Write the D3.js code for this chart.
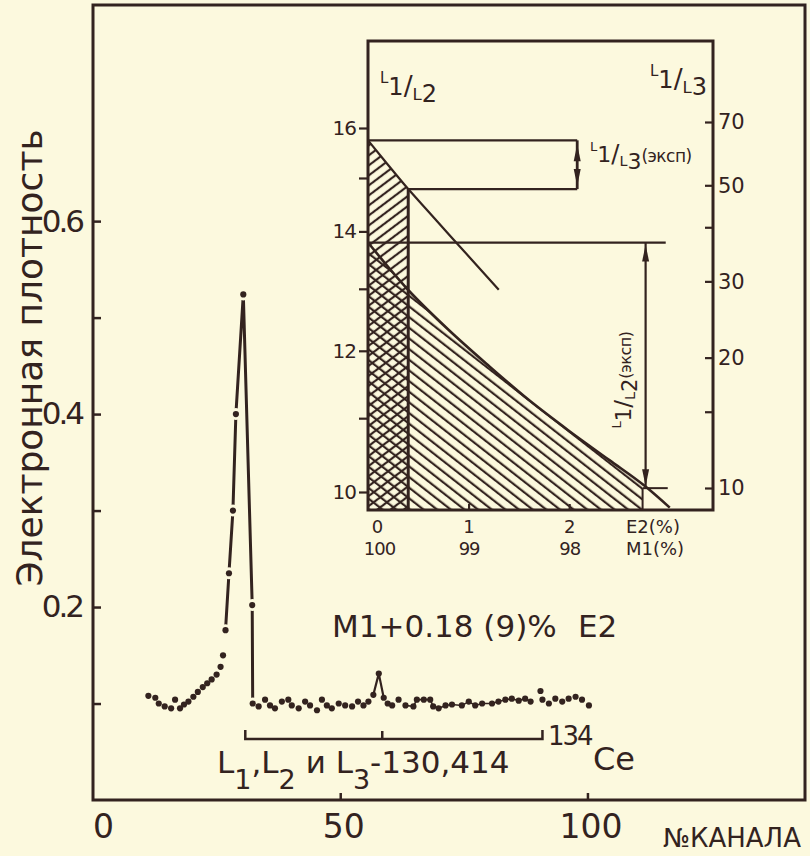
<!DOCTYPE html>
<html>
<head>
<meta charset="utf-8">
<script src="https://cdnjs.cloudflare.com/ajax/libs/d3/7.8.5/d3.min.js"></script>
<style>
body{margin:0;background:#fcf9de;}
svg{display:block;color:#33231f;}
text{font-family:"DejaVu Sans",sans-serif;fill:#33231f;}
</style>
</head>
<body>
<svg id="svg" width="810" height="856"></svg>
<script>
// spectrum: channel number vs electron density
var channel=[11.2,12.6,13.3,14.5,15.8,16.6,17.6,18.4,19.3,20.3,21.2,22.2,23.1,24.0,25.0,25.8,26.3,
    26.8,27.5,28.3,28.9,30.4,32.2,
    32.3,33.5,34.8,35.8,36.8,38.2,39.5,40.2,41.6,42.9,43.9,45.3,46.3,47.3,48.3,49.7,51.0,52.4,53.6,54.7,55.7,
    56.7,57.8,58.8,
    59.6,60.5,61.8,63.2,64.8,65.5,66.9,68.2,68.8,69.9,71.3,72.6,74.6,76.0,77.3,78.7,80.7,82.0,83.4,84.7,86.1,87.4,88.5,
    90.5,90.9,92.2,93.5,94.9,96.2,97.6,98.9,100.3]
var density=[0.108,0.106,0.100,0.097,0.095,0.104,0.095,0.099,0.102,0.107,0.112,0.117,0.121,0.125,0.130,0.138,0.150,
    0.176,0.235,0.300,0.400,0.524,0.202,
    0.100,0.097,0.104,0.098,0.095,0.102,0.104,0.098,0.095,0.102,0.098,0.093,0.104,0.098,0.095,0.100,0.098,0.097,0.102,0.098,0.102,
    0.109,0.131,0.106,
    0.100,0.098,0.104,0.098,0.097,0.104,0.104,0.104,0.097,0.095,0.098,0.099,0.098,0.102,0.098,0.100,0.100,0.102,0.104,0.105,0.103,0.105,0.102,
    0.113,0.104,0.100,0.105,0.102,0.105,0.107,0.104,0.098]
var peakRange=[26.5,32.4]
var smallPeakRange=[56.5,59]
var smearRange=[62,89]
var lineChannels=[30.8,58.5,90.9]   // L1, L2, L3 - 130,414
var xTicks=[0,50,100]
var yTicks=[0.1,0.2,0.3,0.4,0.5,0.6]
var yLabels=[0.2,0.4,0.6]

// inset: E2 admixture vs L-subshell ratios
var e2=[0,0.4,0.8,1.2,1.6,2.0,2.4,2.75,3.0]
var l12Theory=[13.8,12.98,12.33,11.77,11.26,10.82,10.42,10.08,9.8]
var e2L13=[0,0.2,0.4,0.6,0.8,1.0,1.3]
var l13Theory=[63.5,55.7,49,43.5,38.6,34.3,28.7]
var l12Exp=[10.05,13.8]
var l13Exp=[49,63.5]
var e2Allowed=0.4
var e2Limit=2.73
var l12Ticks=[10,11,12,13,14,15,16]
var l12Labels=[10,12,14,16]
var l13Ticks=[10,15,20,30,40,50,70]
var l13Labels=[10,20,30,50,70]
var e2Ticks=[0,1,2]
var m1Labels=[100,99,98]

var ink="#33231f", paper="#fcf9de"
var svg=d3.select("#svg")

var x=d3.scaleLinear().domain([0,144]).range([93,805])
var y=d3.scaleLinear().domain([0,0.824]).range([800,5])

var defs=svg.append("defs")
function hatch(id,angle,step){
    defs.append("pattern")
        .attr("id",id)
        .attr("patternUnits","userSpaceOnUse")
        .attr("width",step).attr("height",10)
        .attr("patternTransform","rotate("+angle+")")
      .append("line")
        .attr("x1",2).attr("y1",-1).attr("x2",2).attr("y2",11)
        .attr("stroke",ink).attr("stroke-width",2.2)
}
hatch("hatchBack",-52,8.4)
hatch("hatchFwd",53,8)

// main frame
svg.append("rect")
    .attr("x",x(0)).attr("y",y(0.824))
    .attr("width",x(144)-x(0)).attr("height",y(0)-y(0.824))
    .attr("fill","none").attr("stroke",ink).attr("stroke-width",3)

var gy=svg.append("g").attr("transform","translate("+x(0)+",0)")
    .call(d3.axisRight(y).tickValues(yTicks).tickSize(8).tickFormat(""))
gy.select(".domain").remove()
gy.selectAll("line").attr("stroke-width",2.5)

var gyl=svg.append("g").attr("transform","translate("+x(0)+",0)")
    .call(d3.axisLeft(y).tickValues(yLabels).tickSize(0).tickPadding(11).tickFormat(d3.format(".1f")))
gyl.select(".domain").remove()
gyl.attr("font-size",31).selectAll("text").attr("letter-spacing",-3)

var gx=svg.append("g").attr("transform","translate(0,"+y(0)+")")
    .call(d3.axisTop(x).tickValues([50,100]).tickSize(7).tickFormat(""))
gx.select(".domain").remove()
gx.selectAll("line").attr("stroke-width",2.5)

var gxl=svg.append("g").attr("transform","translate(0,"+y(0)+")")
    .call(d3.axisBottom(x).tickValues(xTicks).tickSize(0).tickPadding(15))
gxl.select(".domain").remove()
gxl.attr("font-size",33).selectAll("text").attr("dx",d=>d===0?10:3)

svg.append("text")
    .attr("transform","translate(42,358) rotate(-90)")
    .attr("text-anchor","middle")
    .attr("font-size",36)
    .text("Электронная плотность")

svg.append("text").attr("x",663).attr("y",847).attr("font-size",26).text("№КАНАЛА")

// spectrum
var pts=channel.map((c,i)=>[c,density[i]])
var inRange=(r)=>pts.filter(d=>d[0]>=r[0]&&d[0]<=r[1])
var line=d3.line().x(d=>x(d[0])).y(d=>y(d[1]))

svg.append("path").datum(inRange(smearRange))
    .attr("d",line).attr("fill","none").attr("stroke",ink).attr("stroke-width",1.6)
svg.append("path").datum(inRange(smallPeakRange))
    .attr("d",line).attr("fill","none").attr("stroke",ink).attr("stroke-width",2.2)
svg.append("path").datum(inRange(peakRange))
    .attr("d",line).attr("fill","none").attr("stroke",ink).attr("stroke-width",3)

// gaps round the dots sitting on the peak line
svg.selectAll("circle.halo")
    .data(inRange(peakRange))
    .enter().append("circle")
        .attr("class","halo")
        .attr("cx",d=>x(d[0]))
        .attr("cy",d=>y(d[1]))
        .attr("r",6)
        .attr("fill",paper)

svg.selectAll("circle.pt")
    .data(pts)
    .enter().append("circle")
        .attr("class","pt")
        .attr("cx",d=>x(d[0]))
        .attr("cy",d=>y(d[1]))
        .attr("r",3.1)
        .attr("fill",ink)

// bracket of L1, L2, L3 lines
var by=739
svg.append("path")
    .attr("d","M"+x(lineChannels[0])+","+(by-9)+"V"+by+"H"+x(lineChannels[2])+"V"+(by-9)
        +"M"+x(lineChannels[1])+","+by+"V"+(by-8))
    .attr("fill","none").attr("stroke",ink).attr("stroke-width",2.5)

var lt=svg.append("text").attr("x",217).attr("y",773).attr("font-size",31)
lt.append("tspan").text("L")
lt.append("tspan").attr("font-size",27).attr("dy",16).text("1")
lt.append("tspan").attr("dy",-16).text(",L")
lt.append("tspan").attr("font-size",27).attr("dy",16).text("2")
lt.append("tspan").attr("dy",-16).text(" и L")
lt.append("tspan").attr("font-size",27).attr("dy",16).text("3")
lt.append("tspan").attr("dy",-16).text("-130,414")

svg.append("text").attr("x",548).attr("y",745).attr("font-size",26).attr("letter-spacing",-2).text("134")
svg.append("text").attr("x",593).attr("y",770).attr("font-size",32).text("Ce")

svg.append("text").attr("x",332).attr("y",637).attr("font-size",31).text("M1+0.18 (9)%")
svg.append("text").attr("x",578).attr("y",637).attr("font-size",31).text("E2")

// inset
var xi=d3.scaleLinear().domain([0,3.43]).range([368,713])
var yl=d3.scaleLog().domain([10,16]).range([492,128])
var yr=d3.scaleLog().domain([10,70]).range([488,122])
var iTop=41, iBottom=510

var inset=svg.append("g")
inset.append("rect")
    .attr("x",xi(0)).attr("y",iTop)
    .attr("width",xi(3.43)-xi(0)).attr("height",iBottom-iTop)
    .attr("fill",paper)

defs.append("clipPath").attr("id","clipInset").append("rect")
    .attr("x",xi(0)).attr("y",iTop).attr("width",xi(3.43)-xi(0)).attr("height",iBottom-iTop)
defs.append("clipPath").attr("id","clipLimit").append("rect")
    .attr("x",xi(0)).attr("y",iTop).attr("width",xi(e2Limit)-xi(0)).attr("height",iBottom-iTop)

var l12=e2.map((e,i)=>[e,l12Theory[i]])
var l13=e2L13.map((e,i)=>[e,l13Theory[i]])

inset.append("path").datum(l12)
    .attr("clip-path","url(#clipLimit)")
    .attr("d",d3.area().x(d=>xi(d[0])).y0(iBottom).y1(d=>yl(d[1])).curve(d3.curveMonotoneX))
    .attr("fill","url(#hatchBack)")
inset.append("path").datum(l13.filter(d=>d[0]<=e2Allowed))
    .attr("d",d3.area().x(d=>xi(d[0])).y0(iBottom).y1(d=>yr(d[1])).curve(d3.curveMonotoneX))
    .attr("fill","url(#hatchFwd)")

var ig=inset.append("g").attr("clip-path","url(#clipInset)")
ig.append("path").datum(l12)
    .attr("d",d3.line().x(d=>xi(d[0])).y(d=>yl(d[1])).curve(d3.curveMonotoneX))
    .attr("fill","none").attr("stroke",ink).attr("stroke-width",2.6)
ig.append("path").datum(l13)
    .attr("d",d3.line().x(d=>xi(d[0])).y(d=>yr(d[1])).curve(d3.curveMonotoneX))
    .attr("fill","none").attr("stroke",ink).attr("stroke-width",2.2)

function seg(x1,y1,x2,y2,w){
    inset.append("line").attr("x1",x1).attr("y1",y1).attr("x2",x2).attr("y2",y2)
        .attr("stroke",ink).attr("stroke-width",w)
}
function arrowHead(xp,yp,dir){
    inset.append("path")
        .attr("d","M"+xp+","+yp+"L"+(xp-3.5)+","+(yp+dir*17)+"L"+(xp+3.5)+","+(yp+dir*17)+"Z")
        .attr("fill",ink)
}

// edges of hatched regions
seg(xi(e2Allowed),yr(l13Exp[0]),xi(e2Allowed),iBottom,3)
seg(xi(e2Limit),yl(l12Exp[0]),xi(e2Limit),iBottom,2)

// L1/L3 experimental band
var b13=2.08
seg(xi(0),yr(l13Exp[1]),xi(b13),yr(l13Exp[1]),2.4)
seg(xi(e2Allowed),yr(l13Exp[0]),xi(b13),yr(l13Exp[0]),2.4)
seg(xi(b13),yr(l13Exp[1]),xi(b13),yr(l13Exp[0]),2.8)
arrowHead(xi(b13),yr(l13Exp[1])+4,1)
arrowHead(xi(b13),yr(l13Exp[0])-3,-1)

// L1/L2 experimental band
var b12=2.76
seg(xi(0),yl(l12Exp[1]),xi(2.96),yl(l12Exp[1]),2.2)
seg(xi(e2Limit),yl(l12Exp[0]),xi(2.98),yl(l12Exp[0]),2)
seg(xi(b12),yl(l12Exp[1]),xi(b12),yl(l12Exp[0]),2.2)
arrowHead(xi(b12),yl(l12Exp[1])+2,1)
arrowHead(xi(b12),yl(l12Exp[0])-2,-1)

inset.append("rect")
    .attr("x",xi(0)).attr("y",iTop)
    .attr("width",xi(3.43)-xi(0)).attr("height",iBottom-iTop)
    .attr("fill","none").attr("stroke",ink).attr("stroke-width",3)

// inset axes
var al=inset.append("g").attr("transform","translate("+xi(0)+",0)")
    .call(d3.axisLeft(yl).tickValues(l12Ticks).tickSize(9).tickFormat(""))
al.select(".domain").remove()
al.selectAll("line").attr("stroke-width",2.2)
var all=inset.append("g").attr("transform","translate("+xi(0)+",0)")
    .call(d3.axisLeft(yl).tickValues(l12Labels).tickSize(0).tickPadding(12).tickFormat(d3.format("d")))
all.select(".domain").remove()
all.attr("font-size",20).selectAll("text").attr("letter-spacing",-1)

var ar=inset.append("g").attr("transform","translate("+xi(3.43)+",0)")
    .call(d3.axisLeft(yr).tickValues(l13Ticks).tickSize(8).tickFormat(""))
ar.select(".domain").remove()
ar.selectAll("line").attr("stroke-width",2.2)
var arl=inset.append("g").attr("transform","translate("+xi(3.43)+",0)")
    .call(d3.axisRight(yr).tickValues(l13Labels).tickSize(0).tickPadding(5).tickFormat(d3.format("d")))
arl.select(".domain").remove()
arl.attr("font-size",21)

var ab=inset.append("g").attr("transform","translate(0,"+iBottom+")")
    .call(d3.axisTop(xi).tickValues([1,2]).tickSize(6).tickFormat(""))
ab.select(".domain").remove()
ab.selectAll("line").attr("stroke-width",2.2)
var abl=inset.append("g").attr("transform","translate(0,"+iBottom+")")
    .call(d3.axisBottom(xi).tickValues(e2Ticks).tickSize(0).tickPadding(10).tickFormat(d3.format("d")))
abl.select(".domain").remove()
abl.attr("font-size",18).selectAll("text").attr("dx",d=>d===0?9:0)
var abm=inset.append("g").attr("transform","translate(0,"+iBottom+")")
    .call(d3.axisBottom(xi).tickValues(e2Ticks).tickSize(0).tickPadding(32).tickFormat((d,i)=>m1Labels[i]))
abm.select(".domain").remove()
abm.attr("font-size",18).selectAll("text").attr("dx",d=>d===0?11:0).attr("letter-spacing",-1)
inset.append("text").attr("x",626).attr("y",533).attr("font-size",18).text("E2(%)")
inset.append("text").attr("x",626).attr("y",555).attr("font-size",18).text("M1(%)")

// ratio labels
function ratio(sel,b,big,small){
    sel.append("tspan").attr("font-size",small).attr("dy",-big*0.5).text("L")
    sel.append("tspan").attr("font-size",big).attr("dy",big*0.5).text("1")
    sel.append("tspan").attr("font-size",big*1.1).text("/")
    sel.append("tspan").attr("font-size",small*1.1).attr("dy",big*0.2).text("L")
    sel.append("tspan").attr("font-size",big).attr("dy",big*0.1).text(b)
    return sel
}
ratio(inset.append("text").attr("x",380).attr("y",95),"2",24,15)
ratio(inset.append("text").attr("x",650).attr("y",88),"3",24,15)

var e13=ratio(inset.append("text").attr("x",590).attr("y",162),"3",22,13)
e13.append("tspan").attr("font-size",17).attr("dy",-7).attr("letter-spacing",-0.5).text("(эксп)")

var e12=ratio(inset.append("text").attr("transform","translate(631,380) rotate(-90)").attr("text-anchor","middle"),"2",21,13)
e12.append("tspan").attr("font-size",16).attr("dy",-6).attr("letter-spacing",-0.5).text("(эксп)")
</script>
</body>
</html>
